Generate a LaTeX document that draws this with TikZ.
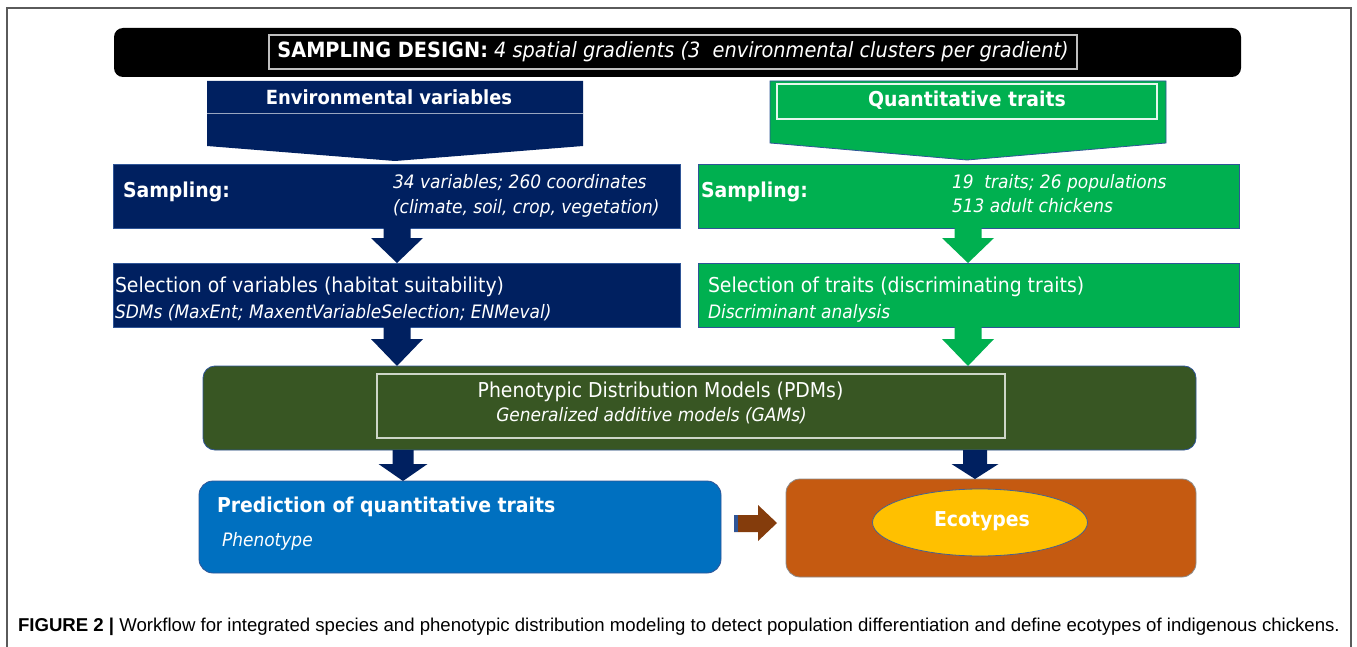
\documentclass[tikz,border=0pt]{standalone}
\usepackage{fontspec}
\setmainfont{DejaVu Sans}
\newfontfamily\cond{DejaVu Sans}[FakeStretch=0.92]
\newfontfamily\capfont{Liberation Sans}
\usetikzlibrary{calc,shapes.geometric}
\definecolor{navy}{RGB}{0,32,96}
\definecolor{navyedge}{RGB}{47,85,151}
\definecolor{mygreen}{RGB}{0,176,80}
\definecolor{olive}{RGB}{56,86,35}
\definecolor{myblue}{RGB}{0,112,192}
\definecolor{myorange}{RGB}{197,90,17}
\definecolor{gold}{RGB}{255,192,0}
\definecolor{brownarrow}{RGB}{132,60,12}
\definecolor{framegray}{RGB}{90,90,90}
\newcommand\fsz[1]{\fontsize{#1}{#1}\selectfont}
% vertical block arrow: x, from node, to node, shaft half, head half, head length, colour
\newcommand\vblockarrow[7]{%
  \fill[#7] let \p1=(#2.south), \p2=(#3.north) in
    (#1pt-#4pt,\y1) -- (#1pt+#4pt,\y1) -- (#1pt+#4pt,\y2+#6pt) -- (#1pt+#5pt,\y2+#6pt)
    -- (#1pt,\y2) -- (#1pt-#5pt,\y2+#6pt) -- (#1pt-#4pt,\y2+#6pt) -- cycle;}
\begin{document}
\begin{tikzpicture}[x=1pt,y=-1pt,
  every node/.style={inner sep=0pt,outer sep=0pt,text=white,font=\cond},
  plainbox/.style={rectangle,draw=navyedge,line width=0.8pt},
  boldtxt/.style={font=\cond\fsz{20.5}\bfseries},
  regtxt/.style={font=\cond\fsz{20.5}},
  ittxt/.style={font=\cond\fsz{18.5}\itshape},
  outline/.style={rectangle,draw=#1,line width=1.2pt,fill=none}
]
\useasboundingbox (0,0) rectangle (1357,647);
\fill[white] (0,0) rectangle (1357,647);
% frame
\draw[framegray,line width=1.2pt] (7,647) -- (7,8) -- (1351,8) -- (1351,647);

% top bar
\node[rectangle,fill=black,rounded corners=9pt,minimum width=1127pt,minimum height=49pt] (bar) at (677.5,52.5) {};
\node[outline=white!75!black,minimum width=808pt,minimum height=34pt] (sd) at (673,52)
  {\fsz{21}\textbf{SAMPLING DESIGN:} \textit{4 spatial gradients (3~ environmental clusters per gradient)}};

% environmental pentagon
\fill[navy] (207,81) -- (583,81) -- (583,146) -- (395,161) -- (207,146) -- cycle;
\draw[white!60!navy,line width=1pt] (207,114) -- (583,114);
\node[boldtxt,font=\cond\fsz{19.5}\bfseries] (env) at (389,97) {Environmental variables};
\coordinate (envtip) at (395,161);

% quantitative pentagon
\filldraw[fill=mygreen,draw=navyedge,line width=0.8pt] (770,81) -- (1166,81) -- (1166,143) -- (967,160) -- (770,143) -- cycle;
\node[outline=white!90!mygreen,minimum width=380pt,minimum height=35pt] (qt) at (967,101.5) {};
\node[boldtxt] (qtt) at (967,100) {Quantitative traits};
\coordinate (qttip) at (967,160);

% sampling boxes
\node[plainbox,fill=navy,minimum width=567pt,minimum height=64pt] (s1) at (396.5,196) {};
\node[boldtxt,anchor=base west] (s1a) at (123,197) {Sampling:};
\node[ittxt,anchor=base west] (s1b) at (393,189) {34 variables; 260 coordinates};
\node[ittxt,anchor=base west] (s1c) at (393,214) {(climate, soil, crop, vegetation)};

\node[plainbox,fill=mygreen,minimum width=541pt,minimum height=64pt] (s2) at (968.5,196) {};
\node[boldtxt,anchor=base west] (s2a) at (701,197) {Sampling:};
\node[ittxt,anchor=base west] (s2b) at (952,189) {19~ traits; 26 populations};
\node[ittxt,anchor=base west] (s2c) at (952,213) {513 adult chickens};

% selection boxes
\node[plainbox,fill=navy,minimum width=567pt,minimum height=64pt] (l1) at (396.5,295) {};
\node[regtxt,anchor=base west] (l1a) at (115,292) {Selection of variables (habitat suitability)};
\node[ittxt,anchor=base west] (l1b) at (115,318) {SDMs (MaxEnt; MaxentVariableSelection; ENMeval)};

\node[plainbox,fill=mygreen,minimum width=541pt,minimum height=64pt] (l2) at (968.5,295) {};
\node[regtxt,anchor=base west] (l2a) at (708,292) {Selection of traits (discriminating traits)};
\node[ittxt,anchor=base west] (l2b) at (708,318) {Discriminant analysis};

% PDM box
\node[rectangle,rounded corners=12pt,fill=olive,draw=navyedge,line width=0.8pt,minimum width=993pt,minimum height=84pt] (pdm) at (699.5,408) {};
\node[outline=white!75!olive,line width=1.5pt,minimum width=628pt,minimum height=64pt] (pdmin) at (691,406) {};
\node[regtxt,anchor=base] (pdma) at (660.5,397) {Phenotypic Distribution Models (PDMs)};
\node[ittxt,anchor=base] (pdmb) at (651.5,421) {Generalized additive models (GAMs)};

% prediction box
\node[rectangle,rounded corners=14pt,fill=myblue,draw=navyedge,line width=0.8pt,minimum width=522pt,minimum height=92pt] (pred) at (460,527) {};
\node[boldtxt,anchor=base west] (preda) at (217,512) {Prediction of quantitative traits};
\node[ittxt,anchor=base west] (predb) at (222,546) {Phenotype};

% ecotypes box
\node[rectangle,rounded corners=14pt,fill=myorange,draw=black!45,line width=0.8pt,minimum width=410pt,minimum height=98pt] (eco) at (991,528) {};
\node[ellipse,fill=gold,draw=navyedge!70!gray,line width=0.8pt,minimum width=215pt,minimum height=67pt] (ell) at (980,522.5) {};
\node[boldtxt] (ecot) at (982,521) {Ecotypes};

% block arrows
\vblockarrow{397}{s1}{l1}{13.5}{26}{25}{navy}
\vblockarrow{397}{l1}{pdm}{13.5}{26}{27}{navy}
\vblockarrow{968}{s2}{l2}{13.5}{26}{25}{mygreen}
\vblockarrow{968}{l2}{pdm}{13.5}{26}{27}{mygreen}
\vblockarrow{403}{pdm}{pred}{10.5}{24.5}{17}{navy}
\vblockarrow{975}{pdm}{eco}{12}{23.5}{15}{navy}
\fill[brownarrow] let \p1=(pred.east), \p2=(eco.west) in
  (\x1+13pt,-515pt) -- (\x1+37pt,-515pt) -- (\x1+37pt,-505pt) -- (\x2-9pt,-523pt)
  -- (\x1+37pt,-541pt) -- (\x1+37pt,-532pt) -- (\x1+13pt,-532pt) -- cycle;
\fill[navyedge] let \p1=(pred.east) in (\x1+13pt,-515pt) rectangle (\x1+17pt,-532pt);

% caption
\node[anchor=base west,text=black,font=\capfont\fsz{18.6}] (cap) at (18,631)
  {\textbf{FIGURE 2 |} Workflow for integrated species and phenotypic distribution modeling to detect population differentiation and define ecotypes of indigenous chickens.};
\end{tikzpicture}
\end{document}
